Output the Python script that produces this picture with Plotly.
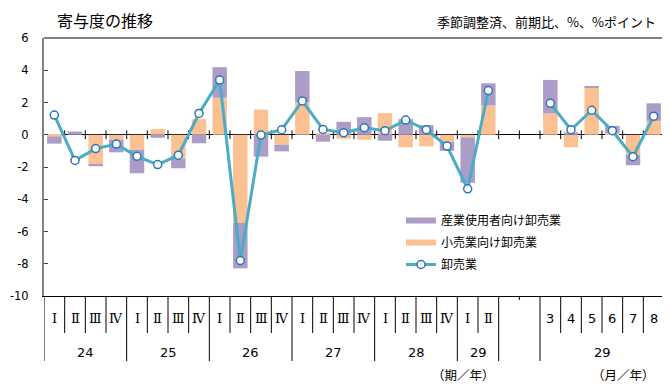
import plotly.graph_objects as go

# ---- data ----
period_labels = ["Ⅰ", "Ⅱ", "Ⅲ", "Ⅳ"] * 5 + ["Ⅰ", "Ⅱ"] + ["", ""] + ["3", "4", "5", "6", "7", "8"]
year_groups = ["24", "25", "26", "27", "28", "29", "", "29"]
group_sizes = [4, 4, 4, 4, 4, 2, 2, 6]
y_ticks = [6, 4, 2, 0, -2, -4, -6, -8, -10]
y_tick_text = [str(v) for v in y_ticks]

retail = [-0.10, 0.00, -1.81, -0.31, -0.93, 0.35, -1.48, 0.97, 2.30, -5.47,
          1.56, -0.62, 2.00, 0.10, -0.25, -0.31, 1.34, -0.78, -0.72, -0.45,
          -0.16, 1.81, None, None, 1.32, -0.78, 2.92, 0.10, -1.23, 0.86]
industrial = [-0.45, 0.20, -0.14, -0.78, -1.46, -0.19, -0.60, -0.53, 1.89, -2.82,
              -1.36, -0.41, 1.95, -0.43, 0.80, 1.09, -0.37, 0.97, 0.60, -0.55,
              -2.82, 1.38, None, None, 2.08, 0.15, 0.10, 0.45, -0.66, 1.09]
wholesale = [1.22, -1.59, -0.86, -0.58, -1.34, -1.85, -1.27, 1.32, 3.39, -7.80,
             -0.02, 0.31, 2.10, 0.33, 0.12, 0.43, 0.25, 0.91, 0.31, -0.70,
             -3.35, 2.74, None, None, 1.95, 0.31, 1.52, 0.25, -1.36, 1.15]

names = ["産業使用者向け卸売業", "小売業向け卸売業", "卸売業"]
title_text = "寄与度の推移"
unit_text = "季節調整済、前期比、%、%ポイント"
axis_note_q = "（期／年）"
axis_note_m = "（月／年）"

# ---- style ----
PURPLE = "#ab9cc8"
ORANGE = "#fbc193"
LINE = "#4bacc6"
MARK = "#2e75b6"
JP = "Noto Sans CJK JP"
NUM = "DejaVu Sans"

OFF = 8  # page body margin
W, H = 670, 385
L, R, T, B = 44, 6, 38, 89
FW, FH = W - OFF, H - OFF
ML, MT = L - OFF, T - OFF
MB = B
PH = FH - MT - MB
PW = FW - ML - R


def py(p):
    # p: window pixel (y) -> paper fraction
    return (H - B - p) / PH


def px(p):
    return (p - L) / PW


n = len(period_labels)
idx = list(range(n))

fig = go.Figure()
fig.add_trace(go.Bar(x=idx, y=retail, marker=dict(color=ORANGE, line=dict(width=0)),
                     width=0.7, showlegend=False, name=names[1]))
fig.add_trace(go.Bar(x=idx, y=industrial, marker=dict(color=PURPLE, line=dict(width=0)),
                     width=0.7, showlegend=False, name=names[0]))
fig.add_trace(go.Scatter(x=idx, y=wholesale, mode="lines+markers", connectgaps=False,
                         line=dict(color=LINE, width=3),
                         marker=dict(size=8, color="white", line=dict(color=MARK, width=1.5)),
                         name=names[2], legendgroup="c", legendrank=3))
# legend swatches for the bar series
fig.add_trace(go.Scatter(x=[None], y=[None], mode="lines", line=dict(color=PURPLE, width=6),
                         name=names[0], legendgroup="a", legendrank=1))
fig.add_trace(go.Scatter(x=[None], y=[None], mode="lines", line=dict(color=ORANGE, width=6),
                         name=names[1], legendgroup="b", legendrank=2))

shapes = []
# cross ticks on the zero line
for k in range(1, n):
    shapes.append(dict(type="line", xref="x", yref="y", x0=k - 0.5, x1=k - 0.5, y0=-0.27, y1=0.27,
                       line=dict(color="black", width=1), layer="below"))
# dividers below the axis
start = 0
long_b = {0}
for g, s in zip(year_groups, group_sizes):
    long_b.add(start + s)
    start += s
start = 0
for g, s in zip(year_groups, group_sizes):
    for k in range(start + 1, start + s):
        y_end = py(300) if g == "" else py(333)
        shapes.append(dict(type="line", xref="x", yref="paper", x0=k - 0.5, x1=k - 0.5,
                           y0=0, y1=y_end, line=dict(color="black", width=1)))
    start += s
for k in sorted(long_b):
    shapes.append(dict(type="line", xref="x", yref="paper", x0=k - 0.5, x1=k - 0.5,
                       y0=0, y1=py(361), line=dict(color="black", width=1)))
# top and right frame
shapes.append(dict(type="line", xref="paper", yref="paper", x0=0, x1=1, y0=1, y1=1,
                   line=dict(color="#808080", width=2)))
shapes.append(dict(type="line", xref="paper", yref="paper", x0=1, x1=1, y0=0, y1=1,
                   line=dict(color="#606060", width=1)))

ann = []
for i, lab in enumerate(period_labels):
    if lab:
        roman = lab in ("Ⅰ", "Ⅱ", "Ⅲ", "Ⅳ")
        ann.append(dict(x=i, y=py(318), xref="x", yref="paper", text=lab, showarrow=False,
                        font=dict(family="DejaVu Serif" if roman else NUM, size=13, color="black"),
                        xanchor="center", yanchor="middle"))
start = 0
for g, s in zip(year_groups, group_sizes):
    if g:
        ann.append(dict(x=start + (s - 1) / 2, y=py(352), xref="x", yref="paper", text=g,
                        showarrow=False, font=dict(family=NUM, size=13, color="black"),
                        xanchor="center", yanchor="middle"))
    start += s
ann.append(dict(x=px(464), y=py(374), xref="paper", yref="paper", text=axis_note_q, showarrow=False,
                font=dict(family=JP, size=12.5, color="black"), xanchor="center", yanchor="middle"))
ann.append(dict(x=px(623), y=py(374), xref="paper", yref="paper", text=axis_note_m, showarrow=False,
                font=dict(family=JP, size=12.5, color="black"), xanchor="center", yanchor="middle"))
ann.append(dict(x=px(55), y=py(20), xref="paper", yref="paper", text=title_text, showarrow=False,
                font=dict(family=JP, size=16, color="black"), xanchor="left", yanchor="middle"))
ann.append(dict(x=px(658), y=py(22), xref="paper", yref="paper", text=unit_text, showarrow=False,
                font=dict(family=JP, size=13, color="black"), xanchor="right", yanchor="middle"))

fig.update_layout(
    width=FW, height=FH,
    margin=dict(l=ML, r=R, t=MT, b=MB, pad=0, autoexpand=False),
    paper_bgcolor="white", plot_bgcolor="white",
    barmode="relative",
    showlegend=True,
    legend=dict(x=px(401), y=py(206), xanchor="left", yanchor="top",
                traceorder="grouped", tracegroupgap=3,
                font=dict(family=JP, size=12, color="black"),
                bgcolor="rgba(0,0,0,0)", borderwidth=0),
    xaxis=dict(range=[-0.5, n - 0.5], showticklabels=False, ticks="", showgrid=False,
               zeroline=False, showline=True, linecolor="black", linewidth=1,
               fixedrange=True, automargin=False),
    yaxis=dict(range=[-10, 6], tickmode="array", tickvals=y_ticks, ticktext=y_tick_text,
               ticks="inside", ticklen=4, tickcolor="#404040",
               showgrid=False, zeroline=True, zerolinecolor="black", zerolinewidth=1,
               showline=True, linecolor="#808080", linewidth=2, ticklabelstandoff=11,
               automargin=False,
               tickfont=dict(family=NUM, size=11.5, color="black")),
    shapes=shapes,
    annotations=ann,
)

fig.write_html("out.html")
